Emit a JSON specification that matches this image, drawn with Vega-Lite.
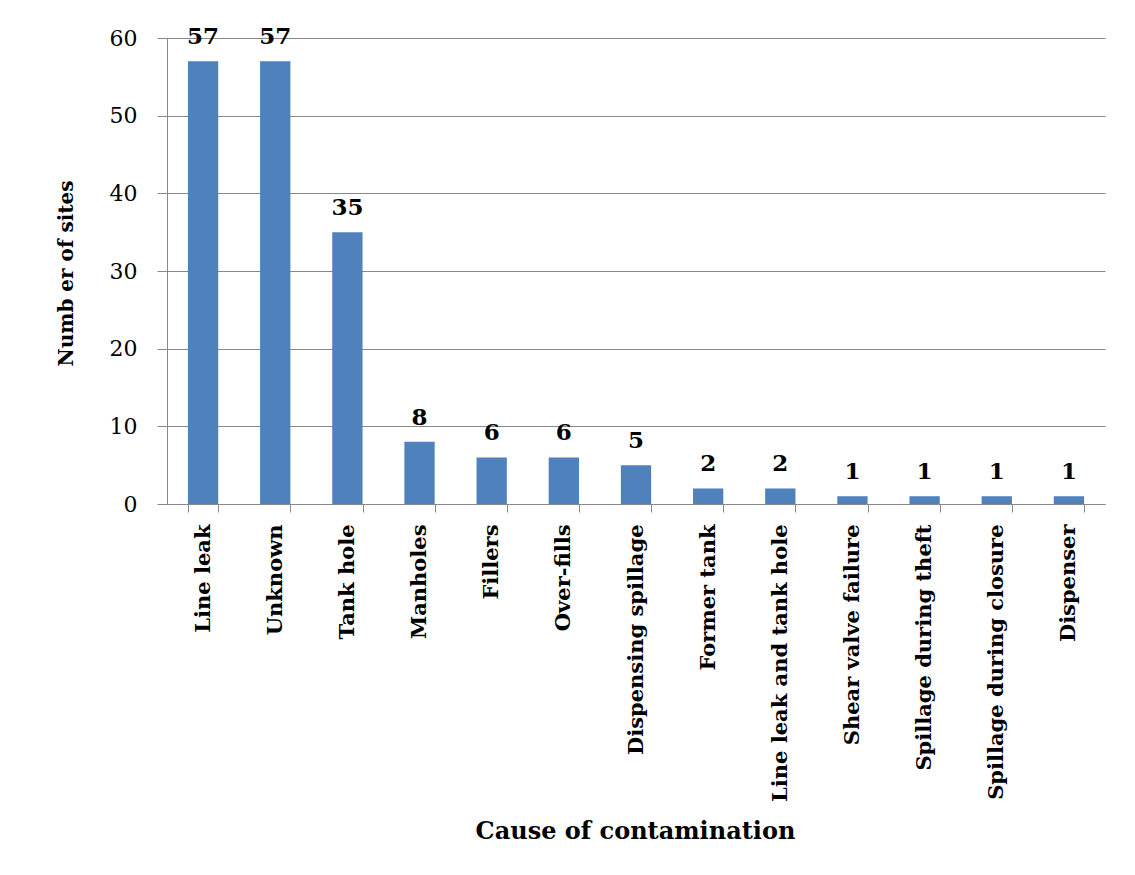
{
  "$schema": "https://vega.github.io/schema/vega-lite/v6.json",
  "width": 938,
  "height": 466,
  "autosize": {"type": "none"},
  "padding": {"left": 167, "top": 38, "right": 30, "bottom": 371},
  "background": "white",
  "config": {
    "view": {"stroke": null},
    "font": "DejaVu Serif"
  },
  "data": {
    "values": [
      {"cause": "Line leak", "sites": 57},
      {"cause": "Unknown", "sites": 57},
      {"cause": "Tank hole", "sites": 35},
      {"cause": "Manholes", "sites": 8},
      {"cause": "Fillers", "sites": 6},
      {"cause": "Over-fills", "sites": 6},
      {"cause": "Dispensing spillage", "sites": 5},
      {"cause": "Former tank", "sites": 2},
      {"cause": "Line leak and tank hole", "sites": 2},
      {"cause": "Shear valve failure", "sites": 1},
      {"cause": "Spillage during theft", "sites": 1},
      {"cause": "Spillage during closure", "sites": 1},
      {"cause": "Dispenser", "sites": 1}
    ]
  },
  "encoding": {
    "x": {
      "field": "cause",
      "type": "nominal",
      "sort": null,
      "scale": {"paddingInner": 0.58, "paddingOuter": 0.29},
      "axis": {
        "title": "Cause of contamination",
        "titleFont": "DejaVu Serif",
        "titleFontSize": 24,
        "titleFontWeight": "bold",
        "titleColor": "black",
        "titleX": 468,
        "titleY": 327,
        "titleBaseline": "middle",
        "titleAlign": "center",
        "labelAngle": -90,
        "labelAlign": "right",
        "labelBaseline": "middle",
        "labelFont": "DejaVu Serif",
        "labelFontSize": 21,
        "labelFontWeight": "bold",
        "labelColor": "black",
        "labelPadding": 12,
        "labelLimit": 400,
        "tickBand": "extent",
        "tickSize": 8,
        "tickColor": "#888888",
        "domainColor": "#888888",
        "grid": false
      }
    },
    "y": {
      "field": "sites",
      "type": "quantitative",
      "scale": {"domain": [0, 60], "nice": false},
      "axis": {
        "values": [0, 10, 20, 30, 40, 50, 60],
        "title": "Numb er of sites",
        "titleFont": "DejaVu Serif",
        "titleFontSize": 20,
        "titleFontWeight": "bold",
        "titleColor": "black",
        "titleAngle": -90,
        "titleX": -101,
        "titleY": 235,
        "titleBaseline": "middle",
        "titleAlign": "center",
        "labelFont": "DejaVu Serif",
        "labelFontSize": 22,
        "labelColor": "black",
        "labelPadding": 20,
        "tickSize": 10,
        "tickColor": "#888888",
        "domainColor": "#888888",
        "grid": true,
        "gridColor": "#888888",
        "gridWidth": 1
      }
    }
  },
  "layer": [
    {
      "mark": {"type": "bar", "color": "#4F81BD"}
    },
    {
      "mark": {
        "type": "text",
        "font": "DejaVu Serif",
        "fontSize": 23,
        "fontWeight": "bold",
        "color": "black",
        "baseline": "alphabetic",
        "dy": -17
      },
      "encoding": {"text": {"field": "sites", "type": "quantitative"}}
    }
  ]
}
